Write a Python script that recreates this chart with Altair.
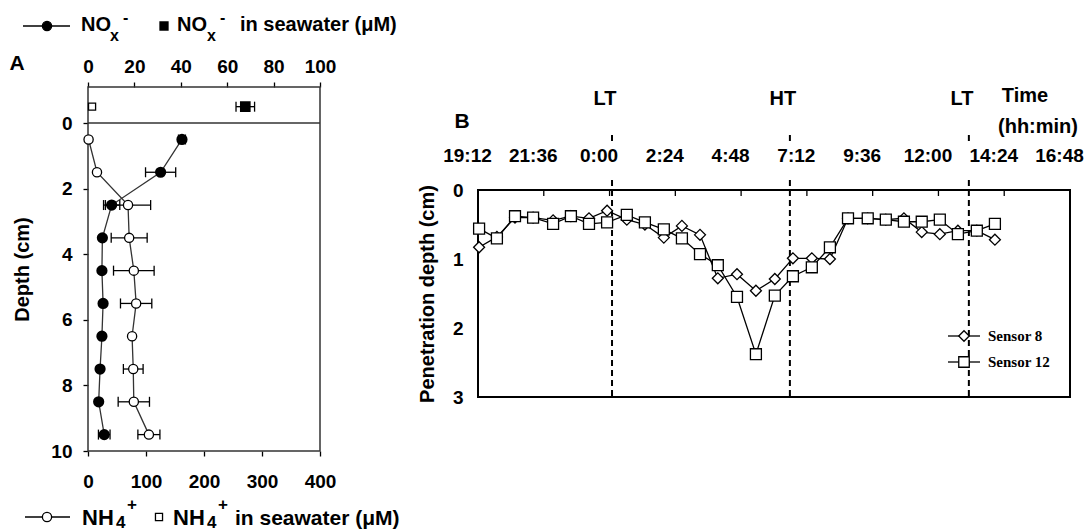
import altair as alt
import pandas as pd

# ---------------- Panel A data ----------------
DEPTH = [0.5, 1.5, 2.5, 3.5, 4.5, 5.5, 6.5, 7.5, 8.5, 9.5]
NOX = [40.5, 31.3, 10.2, 6.2, 6.0, 6.5, 6.0, 5.2, 4.6, 7.0]
NOX_ERR = [1.5, 6.5, 3.5, 0, 0, 0, 0, 0, 0, 2.5]
NH4 = [1.0, 15.5, 69.0, 71.0, 79.0, 83.0, 76.0, 78.0, 79.0, 105.0]
NH4_ERR = [0, 0, 39, 31, 35, 27, 0, 17, 27, 19]
SEA_DEPTH = [-0.5]
SEA_NOX = [67.8]
SEA_NOX_ERR = [4.0]
SEA_NH4 = [7.0]
NOX_TICKS = [0, 20, 40, 60, 80, 100]
NH4_TICKS = [0, 100, 200, 300, 400]
DEPTH_TICKS = [0, 2, 4, 6, 8, 10]

# ---------------- Panel B data ----------------
TIME_H = [0.04, 0.69, 1.35, 2.01, 2.74, 3.39, 4.05, 4.71, 5.43, 6.09, 6.78, 7.44,
          8.10, 8.75, 9.45, 10.14, 10.83, 11.49, 12.18, 12.84, 13.50, 14.22, 14.88,
          15.54, 16.19, 16.85, 17.51, 18.20, 18.86]
SENSOR8 = [0.83, 0.68, 0.40, 0.40, 0.44, 0.38, 0.41, 0.30, 0.43, 0.50, 0.69, 0.52,
           0.65, 1.28, 1.22, 1.46, 1.29, 0.99, 0.99, 1.00, 0.41, 0.41, 0.43, 0.41,
           0.61, 0.64, 0.59, 0.59, 0.72]
SENSOR12 = [0.56, 0.70, 0.38, 0.40, 0.49, 0.38, 0.49, 0.47, 0.36, 0.47, 0.57, 0.70,
            0.93, 1.09, 1.55, 2.38, 1.53, 1.25, 1.12, 0.83, 0.41, 0.41, 0.43, 0.46,
            0.46, 0.43, 0.64, 0.59, 0.49]
SENSORS = ["Sensor 8", "Sensor 12"]
TIME_LABELS = ["19:12", "21:36", "0:00", "2:24", "4:48", "7:12", "9:36", "12:00", "14:24", "16:48"]
TIME_STEP = 2.4
TIDE_TIME = [4.89, 11.38, 17.91]
TIDE_LABEL = ["LT", "HT", "LT"]
DEPTH_B_TICKS = [0, 1, 2, 3]

FONT = "Liberation Sans"
SERIF = "Liberation Serif"
ONE = pd.DataFrame({"k": [0]})


def txt(s, x, y, size=20, weight="bold", align="left", baseline="alphabetic", font=FONT):
    return alt.Chart(ONE).mark_text(
        text=s, fontSize=size, fontWeight=weight, align=align, baseline=baseline,
        font=font, color="black"
    ).encode(x=alt.value(x), y=alt.value(y))


def hline(x1, x2, y, color="black", width=1.3):
    return alt.Chart(ONE).mark_rule(color=color, strokeWidth=width).encode(
        x=alt.value(x1), x2=alt.value(x2), y=alt.value(y))


def sym(shape, x, y, fill, size=75):
    return alt.Chart(ONE).mark_point(
        shape=shape, size=size, filled=True, fill=fill, stroke="black",
        strokeWidth=1.3, opacity=1
    ).encode(x=alt.value(x), y=alt.value(y))


# ======================= Panel A =======================
WA, HA = 232, 364

nox_df = pd.DataFrame({"depth": DEPTH, "nox": NOX, "err": NOX_ERR})
nox_df["lo"] = nox_df["nox"] - nox_df["err"]
nox_df["hi"] = nox_df["nox"] + nox_df["err"]
nox_err_df = nox_df[nox_df["err"] > 0]
sea_nox_df = pd.DataFrame({"depth": SEA_DEPTH, "nox": SEA_NOX, "err": SEA_NOX_ERR})
sea_nox_df["lo"] = sea_nox_df["nox"] - sea_nox_df["err"]
sea_nox_df["hi"] = sea_nox_df["nox"] + sea_nox_df["err"]

nh4_df = pd.DataFrame({"depth": DEPTH, "nh4": NH4, "err": NH4_ERR})
nh4_df["lo"] = nh4_df["nh4"] - nh4_df["err"]
nh4_df["hi"] = nh4_df["nh4"] + nh4_df["err"]
nh4_err_df = nh4_df[nh4_df["err"] > 0]
sea_nh4_df = pd.DataFrame({"depth": SEA_DEPTH, "nh4": SEA_NH4})

y_scale_a = alt.Scale(domain=[-1.1, 10], reverse=True, nice=False, zero=False)
axis_y_a = alt.Axis(values=DEPTH_TICKS, title="Depth (cm)", tickSize=5, labelPadding=11,
                    domain=False, grid=False, titleFontSize=20, titleFontWeight="bold",
                    titleX=-56, titleY=HA / 2)
ya = alt.Y("depth:Q", scale=y_scale_a, axis=axis_y_a)

axis_nox = alt.Axis(orient="top", values=NOX_TICKS, tickSize=5, labelPadding=6,
                    domain=False, grid=False, title=None, labelFlush=False, labelOverlap=False)
axis_nh4 = alt.Axis(orient="bottom", values=NH4_TICKS, tickSize=5, labelPadding=16,
                    domain=False, grid=False, title=None, labelFlush=False, labelOverlap=False)


def xnox(f):
    return alt.X(f"{f}:Q", scale=alt.Scale(domain=[0, 100], nice=False, zero=False), axis=axis_nox)


def xnh4(f):
    return alt.X(f"{f}:Q", scale=alt.Scale(domain=[0, 400], nice=False, zero=False), axis=axis_nh4)


LINE_C = "#333333"


def caps(df, xf, field):
    return alt.Chart(df).mark_tick(orient="vertical", size=10, thickness=1.3,
                                   color="black", opacity=1).encode(x=xf(field), y=ya)


nox_group = alt.layer(
    alt.Chart(nox_df).mark_line(color=LINE_C, strokeWidth=1.3).encode(
        x=xnox("nox"), y=ya, order="depth:Q"),
    alt.Chart(nox_err_df).mark_rule(color="black", strokeWidth=1.3).encode(
        x=xnox("lo"), x2="hi:Q", y=ya),
    caps(nox_err_df, xnox, "lo"),
    caps(nox_err_df, xnox, "hi"),
    alt.Chart(sea_nox_df).mark_rule(color="black", strokeWidth=1.3).encode(
        x=xnox("lo"), x2="hi:Q", y=ya),
    caps(sea_nox_df, xnox, "lo"),
    caps(sea_nox_df, xnox, "hi"),
    alt.Chart(nox_df).mark_point(shape="circle", size=85, filled=True, fill="black",
                                 stroke="black", opacity=1).encode(x=xnox("nox"), y=ya),
    alt.Chart(sea_nox_df).mark_point(shape="square", size=75, filled=True, fill="black",
                                     stroke="black", opacity=1).encode(x=xnox("nox"), y=ya),
)

nh4_group = alt.layer(
    alt.Chart(nh4_df).mark_line(color=LINE_C, strokeWidth=1.3).encode(
        x=xnh4("nh4"), y=ya, order="depth:Q"),
    alt.Chart(nh4_err_df).mark_rule(color="black", strokeWidth=1.3).encode(
        x=xnh4("lo"), x2="hi:Q", y=ya),
    caps(nh4_err_df, xnh4, "lo"),
    caps(nh4_err_df, xnh4, "hi"),
    alt.Chart(nh4_df).mark_point(shape="circle", size=85, filled=True, fill="white",
                                 stroke="black", strokeWidth=1.3, opacity=1).encode(x=xnh4("nh4"), y=ya),
    alt.Chart(sea_nh4_df).mark_point(shape="square", size=50, filled=True, fill="white",
                                     stroke="black", strokeWidth=1.3, opacity=1).encode(x=xnh4("nh4"), y=ya),
)

frame_a = alt.Chart(ONE).mark_rect(fill="transparent", stroke="#333333", strokeWidth=1.5).encode(
    x=alt.value(0), x2=alt.value(WA), y=alt.value(0), y2=alt.value(HA))
zero_a = alt.Chart(ONE).mark_rule(color="#333333", strokeWidth=1.5).encode(
    x=alt.value(0), x2=alt.value(WA), y=alt.YDatum(0, scale=y_scale_a, axis=axis_y_a))

legend_a = [
    txt("A", -71, -17, size=21, align="center"),
    # top legend
    hline(-65, -18, -61),
    sym("circle", -41, -61, "black", size=85),
    txt("NO", -7, -56),
    txt("x", 22, -46, size=16),
    txt("-", 35, -64, size=16),
    sym("square", 76, -61, "black", size=64),
    txt("NO", 89, -56),
    txt("x", 119, -46, size=16),
    txt("-", 132, -64, size=16),
    txt("in seawater (\u03bcM)", 152, -56),
    # bottom legend
    hline(-63, -18, 430),
    sym("circle", -41, 430, "white", size=85),
    txt("NH", -6, 438, size=22),
    txt("4", 28, 441, size=17),
    txt("+", 39, 423, size=17),
    sym("square", 71, 430, "white", size=50),
    txt("NH", 85, 438, size=22),
    txt("4", 119, 441, size=17),
    txt("+", 130, 423, size=17),
    txt("in seawater (\u03bcM)", 147, 438, size=21),
]

panel_a = alt.layer(frame_a, zero_a, nox_group, nh4_group, *legend_a).resolve_scale(
    x="independent").properties(width=WA, height=HA)

# ======================= Panel B =======================
WB, HB, OFFB = 592, 310, 103
ymin_b = -OFFB / (HB - OFFB) * 3
tick_vals = [round(i * TIME_STEP, 4) for i in range(len(TIME_LABELS))]
y_scale_b = alt.Scale(domain=[ymin_b, 3], reverse=True, nice=False, zero=False)
x_scale_b = alt.Scale(domain=[0, tick_vals[-1]], nice=False, zero=False)

label_expr = "[" + ",".join(f"'{s}'" for s in TIME_LABELS) + f"][round(datum.value / {TIME_STEP})]"

axis_xb = alt.Axis(orient="top", values=tick_vals, labelExpr=label_expr, offset=-OFFB,
                   domain=False, grid=False, ticks=False, labelPadding=25, title=None,
                   labelOverlap=False, labelFlush=False, labelOffset=-11, labelFontSize=19)
axis_yb = alt.Axis(values=DEPTH_B_TICKS, domain=False, grid=False, ticks=False, labelPadding=15,
                   title="Penetration depth (cm)", titleFontSize=20, titleFontWeight="bold",
                   titleX=-41, titleY=OFFB + (HB - OFFB) / 2)

xb = alt.X("time:Q", scale=x_scale_b, axis=axis_xb)
yb = alt.Y("depth:Q", scale=y_scale_b, axis=axis_yb)

df_b = pd.concat([
    pd.DataFrame({"time": TIME_H, "depth": SENSOR8, "sensor": SENSORS[0]}),
    pd.DataFrame({"time": TIME_H, "depth": SENSOR12, "sensor": SENSORS[1]}),
])
tick_df = pd.DataFrame({"time": tick_vals})
tide_df = pd.DataFrame({"time": TIDE_TIME, "label": TIDE_LABEL})

frame_b = alt.Chart(ONE).mark_rect(fill="transparent", stroke="black", strokeWidth=2).encode(
    x=alt.value(0), x2=alt.value(WB), y=alt.value(OFFB), y2=alt.value(HB))
ticks_b = alt.Chart(tick_df).mark_rule(color="black", strokeWidth=1.3).encode(
    x=xb, y=alt.value(OFFB), y2=alt.value(OFFB + 6))
tide_top = alt.Chart(tide_df).mark_rule(color="black", strokeWidth=2, strokeDash=[6, 4]).encode(
    x=xb, y=alt.value(48), y2=alt.value(58))
tide_main = alt.Chart(tide_df).mark_rule(color="black", strokeWidth=2, strokeDash=[6, 4]).encode(
    x=xb, y=alt.value(93), y2=alt.value(HB))
tide_txt = alt.Chart(tide_df).mark_text(font=FONT, fontSize=20, fontWeight="bold", dx=-7,
                                        baseline="middle", color="black").encode(
    x=xb, y=alt.value(12), text="label:N")

lines_b = alt.Chart(df_b).mark_line(color="black", strokeWidth=1.3).encode(
    x=xb, y=yb, detail="sensor:N")
pts_b = alt.Chart(df_b).mark_point(filled=True, fill="white", stroke="black", strokeWidth=1.3,
                                   size=120, opacity=1).encode(
    x=xb, y=yb,
    shape=alt.Shape("sensor:N", scale=alt.Scale(domain=SENSORS, range=["diamond", "square"]), legend=None))

legend_b = [
    txt("B", -16, 35, size=21, align="center", baseline="middle"),
    txt("Time", 547, 9, baseline="middle", align="center"),
    txt("(hh:min)", 560, 40, baseline="middle", align="center"),
    hline(470, 502, 249),
    sym("diamond", 486, 249, "white", size=110),
    txt(SENSORS[0], 510, 249, size=15, font=SERIF, baseline="middle"),
    hline(470, 502, 275),
    sym("square", 486, 275, "white", size=110),
    txt(SENSORS[1], 510, 275, size=15, font=SERIF, baseline="middle"),
]

panel_b = alt.layer(frame_b, ticks_b, tide_top, tide_main, tide_txt, lines_b, pts_b,
                    *legend_b).properties(width=WB, height=HB)

chart = alt.hconcat(panel_a, panel_b, spacing=158, bounds="flush").configure_view(
    stroke=None
).configure_axis(
    labelFont=FONT, titleFont=FONT, labelFontSize=19, labelFontWeight="bold",
    labelColor="black", tickColor="black", titleColor="black", tickWidth=1.3
).properties(padding={"left": 1, "top": 2, "right": 0, "bottom": 0})

chart.save("out.html", embed_options={"renderer": "svg", "actions": False})
